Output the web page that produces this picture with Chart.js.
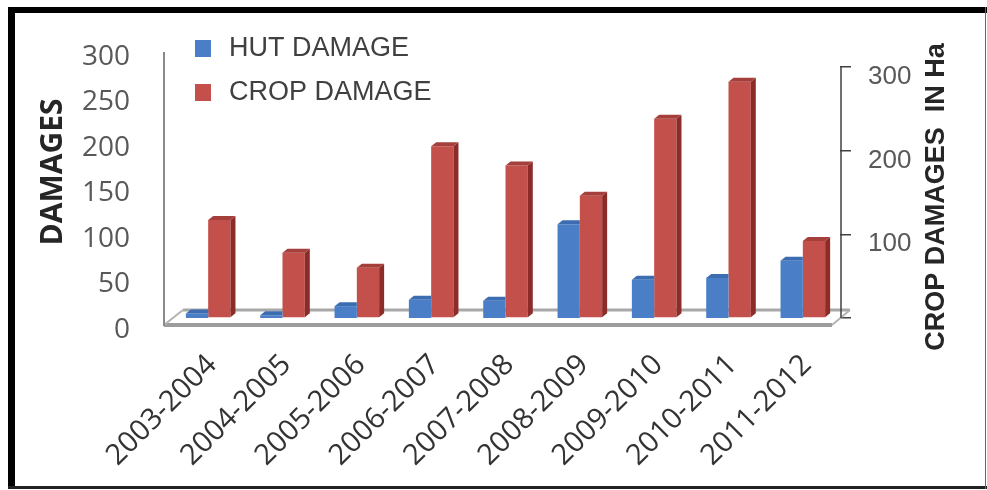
<!DOCTYPE html>
<html>
<head>
<meta charset="utf-8">
<title>Hut and crop damage</title>
<script src="https://cdn.jsdelivr.net/npm/chart.js@4.4.0/dist/chart.umd.min.js"></script>
<style>
  html, body { margin: 0; padding: 0; background: #fff; }
  canvas { display: block; }
</style>
</head>
<body>
<canvas id="damageChart" width="987" height="490"></canvas>
<script>
const years = ["2003-2004", "2004-2005", "2005-2006", "2006-2007", "2007-2008",
               "2008-2009", "2009-2010", "2010-2011", "2011-2012"];
const hutDamage = [5, 3, 13, 20, 19, 103, 42, 44, 63];
const cropDamage = [117, 78, 60, 205, 182, 146, 238, 282, 92];
const leftTicks = [0, 50, 100, 150, 200, 250, 300];
const rightTicks = [0, 100, 200, 300];

const BLUE = "#4a7fc8", BLUE_SIDE = "#2e5c99", BLUE_TOP = "#3c6db0";
const RED = "#c4504c", RED_SIDE = "#8c2c29", RED_TOP = "#a53f3b";

// black frame round the whole figure
const framePlugin = {
  id: "frame",
  beforeDraw(chart) {
    const ctx = chart.ctx;
    ctx.save();
    ctx.fillStyle = "#fff";
    ctx.fillRect(0, 0, chart.width, chart.height);
    ctx.fillStyle = "#000";
    ctx.fillRect(8, 7, 979, 6);
    ctx.fillRect(8, 7, 7, 482);
    ctx.fillStyle = "#222";
    ctx.fillRect(8, 486, 979, 3);
    ctx.fillStyle = "#666";
    ctx.fillRect(985, 7, 1, 482);
    ctx.restore();
  }
};

// back wall edge and floor of the 3D plot
const floorPlugin = {
  id: "floor3d",
  beforeDatasetsDraw(chart) {
    const { ctx, chartArea: a } = chart;
    const y1 = chart.scales.y1;
    ctx.save();
    ctx.lineCap = "butt";
    // back floor edge
    ctx.strokeStyle = "#a8a8a8";
    ctx.lineWidth = 3;
    ctx.beginPath();
    ctx.moveTo(a.left + 12, a.bottom - 8);
    ctx.lineTo(a.right + 10, a.bottom - 8);
    ctx.stroke();
    // front floor edge
    ctx.strokeStyle = "#9c9c9c";
    ctx.lineWidth = 4;
    ctx.beginPath();
    ctx.moveTo(a.left - 7, a.bottom + 7);
    ctx.lineTo(a.right - 8, a.bottom + 7);
    ctx.stroke();
    // floor side edges
    ctx.lineWidth = 2;
    ctx.strokeStyle = "#b4b4b4";
    ctx.beginPath();
    ctx.moveTo(a.left - 7, a.bottom + 7);
    ctx.lineTo(a.left + 12, a.bottom - 8);
    ctx.moveTo(a.right - 8, a.bottom + 7);
    ctx.lineTo(a.right + 10, a.bottom - 8);
    ctx.stroke();
    // left wall edge
    ctx.strokeStyle = "#8a8a8a";
    ctx.lineWidth = 2;
    ctx.beginPath();
    ctx.moveTo(a.left - 7, a.top + 7);
    ctx.lineTo(a.left - 7, a.bottom + 8);
    ctx.stroke();
    // secondary axis line, from its 0 tick to its top tick
    ctx.strokeStyle = "#404040";
    ctx.lineWidth = 1.5;
    ctx.beginPath();
    ctx.moveTo(a.right + 1, y1.getPixelForValue(rightTicks[rightTicks.length - 1]));
    ctx.lineTo(a.right + 1, y1.getPixelForValue(0));
    ctx.stroke();
    ctx.restore();
  }
};

// side and top faces so the bars look like blocks
const bars3dPlugin = {
  id: "bars3d",
  afterDatasetDraw(chart, args) {
    const ctx = chart.ctx;
    const ds = chart.data.datasets[args.index];
    const dx = 5, dy = 4;
    ctx.save();
    args.meta.data.forEach(el => {
      const l = el.x - el.width / 2, r = el.x + el.width / 2;
      // the neighbour bar on the right hides this bar's side
      const hidden = ds.sideHidden;
      if (!hidden) {
        ctx.fillStyle = ds.sideColor;
        ctx.beginPath();
        ctx.moveTo(r, el.y);
        ctx.lineTo(r + dx, el.y - dy);
        ctx.lineTo(r + dx, el.base - dy);
        ctx.lineTo(r, el.base);
        ctx.closePath();
        ctx.fill();
      }
      ctx.fillStyle = ds.topColor;
      ctx.beginPath();
      ctx.moveTo(l, el.y);
      ctx.lineTo(l + dx, el.y - dy);
      ctx.lineTo(hidden ? r : r + dx, el.y - dy);
      ctx.lineTo(r, el.y);
      ctx.closePath();
      ctx.fill();
    });
    ctx.restore();
  }
};

// legend block top left and the two rotated axis titles
const labelsPlugin = {
  id: "labels",
  afterDraw(chart) {
    const ctx = chart.ctx;
    ctx.save();
    const rows = [48, 92];
    chart.data.datasets.forEach((ds, i) => {
      ctx.fillStyle = ds.backgroundColor;
      ctx.fillRect(195, rows[i] - 8, 16, 17);
      ctx.fillStyle = "#404040";
      ctx.font = "27px 'Liberation Sans'";
      ctx.textAlign = "left";
      ctx.textBaseline = "middle";
      ctx.fillText(ds.label, 229, rows[i] + 1);
    });

    ctx.fillStyle = "#262626";
    ctx.textAlign = "center";
    ctx.textBaseline = "middle";
    ctx.translate(53, 172);
    ctx.rotate(-Math.PI / 2);
    ctx.font = "bold 30px 'Open Sans'";
    ctx.fillText("DAMAGES", 0, 0);
    ctx.setTransform(1, 0, 0, 1, 0, 0);
    ctx.translate(937, 197);
    ctx.rotate(-Math.PI / 2);
    ctx.font = "bold 27px 'Liberation Sans'";
    ctx.fillText("CROP DAMAGES  IN Ha", 0, 0);
    ctx.restore();
  }
};

new Chart(document.getElementById("damageChart"), {
  type: "bar",
  data: {
    labels: years,
    datasets: [
      { label: "HUT DAMAGE", data: hutDamage, yAxisID: "y",
        backgroundColor: BLUE, sideColor: BLUE_SIDE, topColor: BLUE_TOP, sideHidden: true },
      { label: "CROP DAMAGE", data: cropDamage, yAxisID: "y1",
        backgroundColor: RED, sideColor: RED_SIDE, topColor: RED_TOP }
    ]
  },
  options: {
    responsive: false,
    animation: false,
    layout: { padding: { top: 45, left: 0, right: 0, bottom: 0 } },
    categoryPercentage: 0.6,
    barPercentage: 1.0,
    plugins: { legend: { display: false }, tooltip: { enabled: false } },
    scales: {
      x: {
        afterFit: s => { s.height = 172; },
        grid: { display: false, drawTicks: false },
        border: { display: false },
        ticks: {
          autoSkip: false, maxRotation: 45, minRotation: 45,
          padding: 30, labelOffset: 4, color: "#333",
          font: { family: "Open Sans", size: 29 }
        }
      },
      y: {
        position: "left", min: 0, max: 300,
        afterBuildTicks: s => { s.ticks = leftTicks.map(v => ({ value: v })); },
        afterFit: s => { s.width = 171; },
        // invisible tick marks keep the labels clear of the wall
        grid: { display: false, drawTicks: true, tickLength: 38 },
        border: { display: false },
        ticks: {
          padding: 3, labelOffset: 12, color: "#595959",
          font: { family: "Open Sans", size: 28 }
        }
      },
      y1: {
        position: "right", min: 0, max: 326,
        afterBuildTicks: s => { s.ticks = rightTicks.map(v => ({ value: v })); },
        afterFit: s => { s.width = 147; },
        grid: { drawOnChartArea: false, drawTicks: true, tickLength: 11, color: "#404040", lineWidth: 1.5 },
        border: { display: false },
        ticks: {
          padding: 17, labelOffset: 10, color: "#595959",
          font: { family: "Liberation Sans", size: 26 },
          callback: v => (v === 0 ? "" : v)
        }
      }
    }
  },
  plugins: [framePlugin, floorPlugin, bars3dPlugin, labelsPlugin]
});
</script>
</body>
</html>
